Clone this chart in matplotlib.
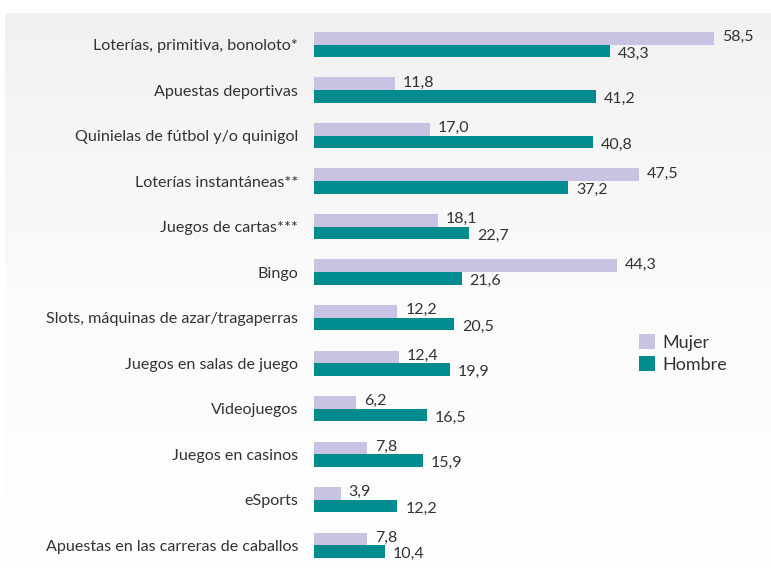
import matplotlib.pyplot as plt
import numpy as np
from matplotlib.colors import LinearSegmentedColormap
from matplotlib.transforms import offset_copy

categories = [
    "Loterías, primitiva, bonoloto*",
    "Apuestas deportivas",
    "Quinielas de fútbol y/o quinigol",
    "Loterías instantáneas**",
    "Juegos de cartas***",
    "Bingo",
    "Slots, máquinas de azar/tragaperras",
    "Juegos en salas de juego",
    "Videojuegos",
    "Juegos en casinos",
    "eSports",
    "Apuestas en las carreras de caballos",
]
mujer = [58.5, 11.8, 17.0, 47.5, 18.1, 44.3, 12.2, 12.4, 6.2, 7.8, 3.9, 7.8]
hombre = [43.3, 41.2, 40.8, 37.2, 22.7, 21.6, 20.5, 19.9, 16.5, 15.9, 12.2, 10.4]

c_mujer = "#c8c3e3"
c_hombre = "#008b8f"
txt = "#333333"

plt.rcParams["font.family"] = ["Lato", "DejaVu Sans"]

fig = plt.figure(figsize=(7.71, 5.68), dpi=100)

# soft grey background panel fading to white
bg = fig.add_axes([5 / 771, 0, 766 / 771, 555 / 568])
grad = np.linspace(0, 1, 256).reshape(-1, 1)
cmap = LinearSegmentedColormap.from_list("bg", ["#f1f1f1", "#fbfbfb", "#ffffff"])
bg.imshow(grad, aspect="auto", cmap=cmap, extent=[0, 1, 0, 1])
bg.axis("off")

ax = fig.add_axes([314 / 771, 0, 451 / 771, 1])
ax.patch.set_alpha(0)
y = np.arange(len(categories))
h = 0.275
ax.barh(y - h / 2, mujer, height=h, color=c_mujer, label="Mujer")
ax.barh(y + h / 2, hombre, height=h, color=c_hombre, label="Hombre")

ax.set_xlim(0, 66)
ax.set_ylim(11.505, -0.978)

for i in range(len(categories)):
    t1 = offset_copy(ax.transData, fig=fig, x=8, y=1, units="dots")
    ax.text(mujer[i], y[i] - h / 2, f"{mujer[i]:.1f}".replace(".", ","),
            va="center", ha="left", fontsize=11.5, color=txt, transform=t1)
    t2 = offset_copy(ax.transData, fig=fig, x=8, y=-3, units="dots")
    ax.text(hombre[i], y[i] + h / 2, f"{hombre[i]:.1f}".replace(".", ","),
            va="center", ha="left", fontsize=11.5, color=txt, transform=t2)

ax.set_yticks(y)
ax.set_yticklabels(categories, fontsize=11.6, color=txt)
ax.tick_params(axis="y", length=0, pad=11.5)
ax.set_xticks([])
for s in ax.spines.values():
    s.set_visible(False)

leg = ax.legend(loc="upper left", bbox_to_anchor=(325 / 451, 1 - 334 / 568),
                frameon=False, fontsize=13, handlelength=0.9, handleheight=0.9,
                handletextpad=0.4, labelspacing=0.3, borderpad=0, borderaxespad=0)
for t in leg.get_texts():
    t.set_color(txt)

fig.savefig("out.png", dpi=100)
